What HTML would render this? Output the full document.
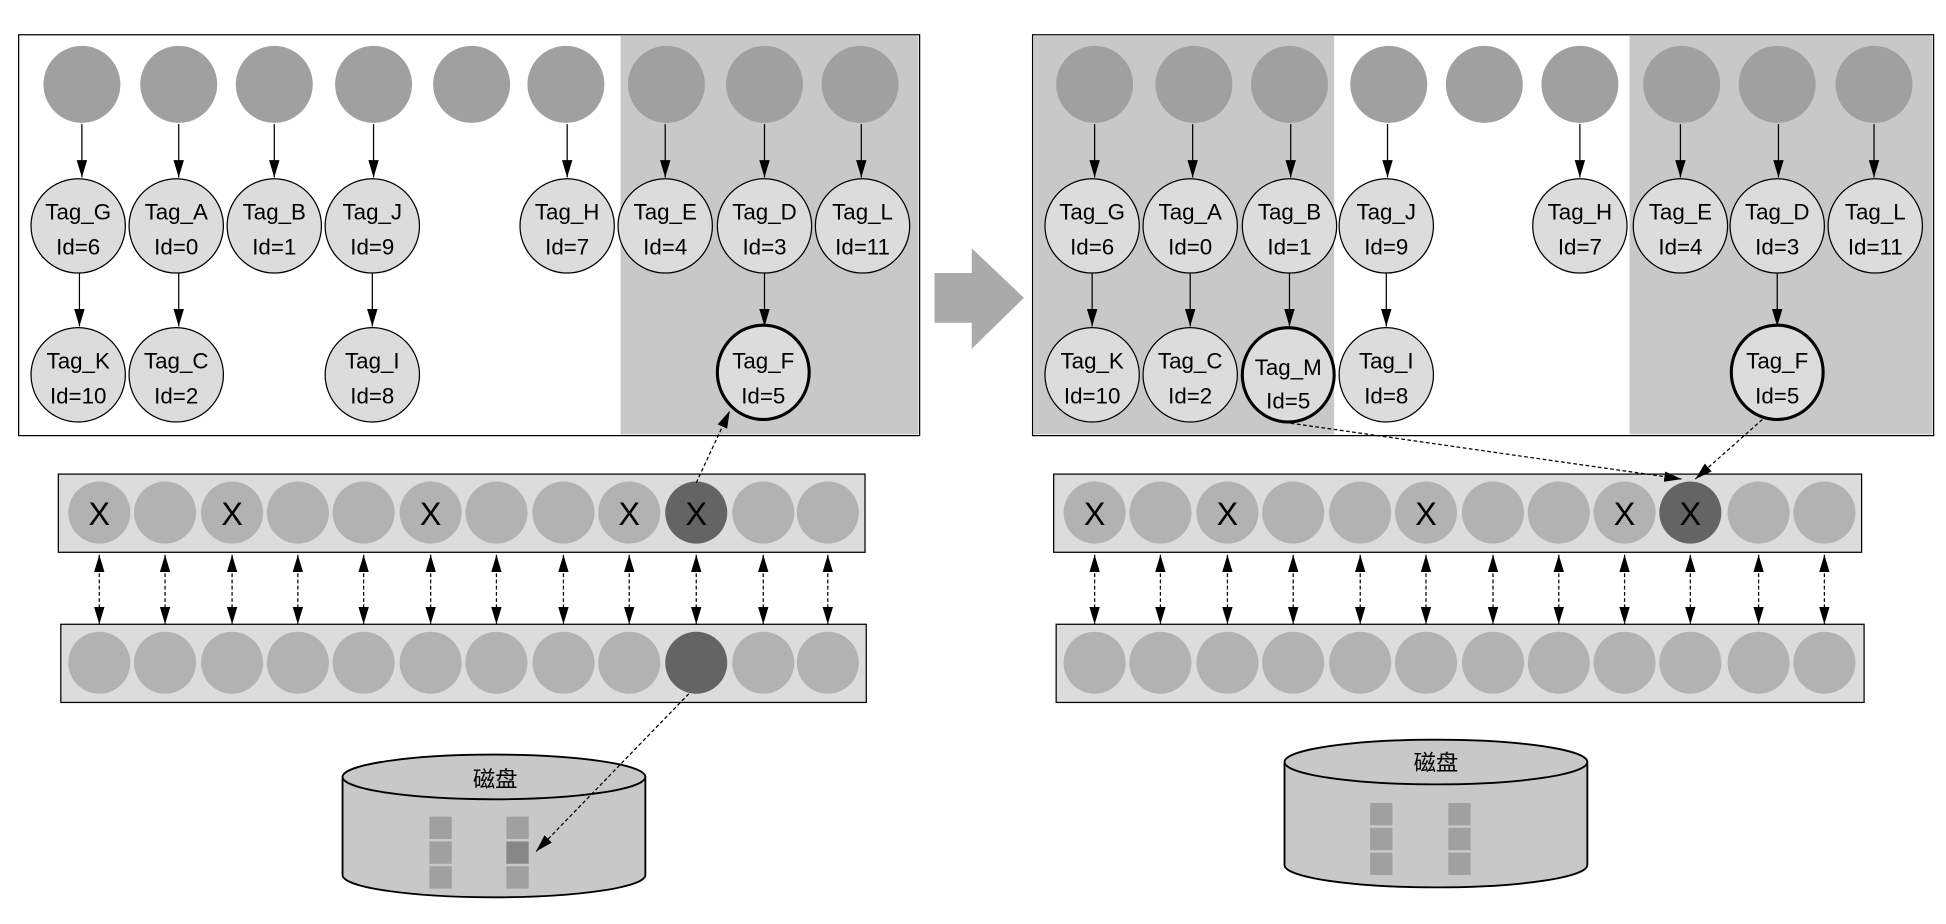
<!DOCTYPE html>
<html><head><meta charset="utf-8"><style>html,body{margin:0;padding:0;background:#fff}svg{display:block}</style></head>
<body>
<svg width="1946" height="924" viewBox="0 0 1568 744.5" xmlns="http://www.w3.org/2000/svg" font-family="Liberation Sans, Noto Sans CJK SC, sans-serif">
<defs>
<marker id="a" viewBox="0 0 10 10" refX="10" refY="5" markerWidth="7" markerHeight="7" orient="auto" markerUnits="userSpaceOnUse"><path d="M0,0 L10,5 L0,10z" fill="#000"/></marker>
<marker id="b" viewBox="0 0 10 10" refX="10" refY="5" markerWidth="14" markerHeight="14" orient="auto-start-reverse" markerUnits="userSpaceOnUse"><path d="M0,2 L10,5 L0,8z" fill="#000"/></marker>
</defs>
<style>
.t{fill:#a0a0a0}.n{fill:#dcdcdc;stroke:#000;stroke-width:1}.nb{fill:#dcdcdc;stroke:#000;stroke-width:2.5}
.l{stroke:#000;stroke-width:1;marker-end:url(#b)}
.d{stroke:#000;stroke-width:1;stroke-dasharray:3,2;fill:none}
.dd{stroke:#000;stroke-width:1;stroke-dasharray:3,2;marker-start:url(#b);marker-end:url(#b)}
text{font-size:18px;text-anchor:middle;fill:#000}
.c{fill:#b2b2b2}.k{fill:#646464}
.x{font-size:26px}
</style>

<!-- LEFT PANEL -->
<rect x="15" y="28" width="726" height="323" fill="#fff" stroke="#000"/>
<rect x="500" y="29" width="240" height="321" fill="#c8c8c8"/>
<g>
<circle class="t" cx="66" cy="68" r="31"/><circle class="t" cx="144" cy="68" r="31"/><circle class="t" cx="221" cy="68" r="31"/><circle class="t" cx="301" cy="68" r="31"/><circle class="t" cx="380" cy="68" r="31"/><circle class="t" cx="456" cy="68" r="31"/><circle class="t" cx="537" cy="68" r="31"/><circle class="t" cx="616" cy="68" r="31"/><circle class="t" cx="693" cy="68" r="31"/>
<line class="l" x1="66" y1="100" x2="66" y2="143"/><line class="l" x1="144" y1="100" x2="144" y2="143"/><line class="l" x1="221" y1="100" x2="221" y2="143"/><line class="l" x1="301" y1="100" x2="301" y2="143"/><line class="l" x1="457" y1="100" x2="457" y2="143"/><line class="l" x1="536" y1="100" x2="536" y2="143"/><line class="l" x1="616" y1="100" x2="616" y2="143"/><line class="l" x1="694" y1="100" x2="694" y2="143"/>
<line class="l" x1="64" y1="220" x2="64" y2="263"/><line class="l" x1="144" y1="220" x2="144" y2="263"/><line class="l" x1="300" y1="220" x2="300" y2="263"/><line class="l" x1="616" y1="220" x2="616" y2="263"/>
<ellipse class="n" cx="63" cy="182" rx="38" ry="38"/><text x="63" y="177">Tag_G</text><text x="63" y="205">Id=6</text>
<ellipse class="n" cx="142" cy="182" rx="38" ry="38"/><text x="142" y="177">Tag_A</text><text x="142" y="205">Id=0</text>
<ellipse class="n" cx="221" cy="182" rx="38" ry="38"/><text x="221" y="177">Tag_B</text><text x="221" y="205">Id=1</text>
<ellipse class="n" cx="300" cy="182" rx="38" ry="38"/><text x="300" y="177">Tag_J</text><text x="300" y="205">Id=9</text>
<ellipse class="n" cx="457" cy="182" rx="38" ry="38"/><text x="457" y="177">Tag_H</text><text x="457" y="205">Id=7</text>
<ellipse class="n" cx="536" cy="182" rx="38" ry="38"/><text x="536" y="177">Tag_E</text><text x="536" y="205">Id=4</text>
<ellipse class="n" cx="616" cy="182" rx="38" ry="38"/><text x="616" y="177">Tag_D</text><text x="616" y="205">Id=3</text>
<ellipse class="n" cx="695" cy="182" rx="38" ry="38"/><text x="695" y="177">Tag_L</text><text x="695" y="205">Id=11</text>
<ellipse class="n" cx="63" cy="302" rx="38" ry="38"/><text x="63" y="297">Tag_K</text><text x="63" y="325">Id=10</text>
<ellipse class="n" cx="142" cy="302" rx="38" ry="38"/><text x="142" y="297">Tag_C</text><text x="142" y="325">Id=2</text>
<ellipse class="n" cx="300" cy="302" rx="38" ry="38"/><text x="300" y="297">Tag_I</text><text x="300" y="325">Id=8</text>
<ellipse class="nb" cx="615" cy="300" rx="37" ry="38"/><text x="615" y="297">Tag_F</text><text x="615" y="325">Id=5</text>
</g>

<!-- big arrow -->
<path d="M753,220 L783,220 L783,200 L825,240 L783,281 L783,260 L753,260z" fill="#aaa"/>

<!-- RIGHT PANEL -->
<rect x="832" y="28" width="726" height="323" fill="#fff" stroke="#000"/>
<rect x="833" y="29" width="242" height="321" fill="#c8c8c8"/>
<rect x="1313" y="29" width="244" height="321" fill="#c8c8c8"/>
<g>
<circle class="t" cx="882" cy="68" r="31"/><circle class="t" cx="962" cy="68" r="31"/><circle class="t" cx="1039" cy="68" r="31"/><circle class="t" cx="1119" cy="68" r="31"/><circle class="t" cx="1196" cy="68" r="31"/><circle class="t" cx="1273" cy="68" r="31"/><circle class="t" cx="1355" cy="68" r="31"/><circle class="t" cx="1432" cy="68" r="31"/><circle class="t" cx="1510" cy="68" r="31"/>
<line class="l" x1="882" y1="100" x2="882" y2="143"/><line class="l" x1="961" y1="100" x2="961" y2="143"/><line class="l" x1="1040" y1="100" x2="1040" y2="143"/><line class="l" x1="1118" y1="100" x2="1118" y2="143"/><line class="l" x1="1273" y1="100" x2="1273" y2="143"/><line class="l" x1="1354" y1="100" x2="1354" y2="143"/><line class="l" x1="1433" y1="100" x2="1433" y2="143"/><line class="l" x1="1510" y1="100" x2="1510" y2="143"/>
<line class="l" x1="880" y1="220" x2="880" y2="263"/><line class="l" x1="959" y1="220" x2="959" y2="263"/><line class="l" x1="1039" y1="220" x2="1039" y2="263"/><line class="l" x1="1117" y1="220" x2="1117" y2="263"/><line class="l" x1="1432" y1="220" x2="1432" y2="263"/>
<ellipse class="n" cx="880" cy="182" rx="38" ry="38"/><text x="880" y="177">Tag_G</text><text x="880" y="205">Id=6</text>
<ellipse class="n" cx="959" cy="182" rx="38" ry="38"/><text x="959" y="177">Tag_A</text><text x="959" y="205">Id=0</text>
<ellipse class="n" cx="1039" cy="182" rx="38" ry="38"/><text x="1039" y="177">Tag_B</text><text x="1039" y="205">Id=1</text>
<ellipse class="n" cx="1117" cy="182" rx="38" ry="38"/><text x="1117" y="177">Tag_J</text><text x="1117" y="205">Id=9</text>
<ellipse class="n" cx="1273" cy="182" rx="38" ry="38"/><text x="1273" y="177">Tag_H</text><text x="1273" y="205">Id=7</text>
<ellipse class="n" cx="1354" cy="182" rx="38" ry="38"/><text x="1354" y="177">Tag_E</text><text x="1354" y="205">Id=4</text>
<ellipse class="n" cx="1432" cy="182" rx="38" ry="38"/><text x="1432" y="177">Tag_D</text><text x="1432" y="205">Id=3</text>
<ellipse class="n" cx="1511" cy="182" rx="38" ry="38"/><text x="1511" y="177">Tag_L</text><text x="1511" y="205">Id=11</text>
<ellipse class="n" cx="880" cy="302" rx="38" ry="38"/><text x="880" y="297">Tag_K</text><text x="880" y="325">Id=10</text>
<ellipse class="n" cx="959" cy="302" rx="38" ry="38"/><text x="959" y="297">Tag_C</text><text x="959" y="325">Id=2</text>
<ellipse class="nb" cx="1038" cy="302" rx="37" ry="38"/><text x="1038" y="302">Tag_M</text><text x="1038" y="329">Id=5</text>
<ellipse class="n" cx="1117" cy="302" rx="38" ry="38"/><text x="1117" y="297">Tag_I</text><text x="1117" y="325">Id=8</text>
<ellipse class="nb" cx="1432" cy="300" rx="37" ry="38"/><text x="1432" y="297">Tag_F</text><text x="1432" y="325">Id=5</text>
</g>

<!-- LEFT STRIPS -->
<rect x="47" y="382" width="650" height="63" fill="#dcdcdc" stroke="#000"/>
<rect x="49" y="503" width="649" height="63" fill="#dcdcdc" stroke="#000"/>
<g>
<circle class="c" cx="80" cy="413" r="25"/><circle class="c" cx="133" cy="413" r="25"/><circle class="c" cx="187" cy="413" r="25"/><circle class="c" cx="240" cy="413" r="25"/><circle class="c" cx="293" cy="413" r="25"/><circle class="c" cx="347" cy="413" r="25"/><circle class="c" cx="400" cy="413" r="25"/><circle class="c" cx="454" cy="413" r="25"/><circle class="c" cx="507" cy="413" r="25"/><circle class="k" cx="561" cy="413" r="25"/><circle class="c" cx="615" cy="413" r="25"/><circle class="c" cx="667" cy="413" r="25"/>
<text class="x" x="80" y="423">X</text><text class="x" x="187" y="423">X</text><text class="x" x="347" y="423">X</text><text class="x" x="507" y="423">X</text><text class="x" x="561" y="423">X</text>
<circle class="c" cx="80" cy="534" r="25"/><circle class="c" cx="133" cy="534" r="25"/><circle class="c" cx="187" cy="534" r="25"/><circle class="c" cx="240" cy="534" r="25"/><circle class="c" cx="293" cy="534" r="25"/><circle class="c" cx="347" cy="534" r="25"/><circle class="c" cx="400" cy="534" r="25"/><circle class="c" cx="454" cy="534" r="25"/><circle class="c" cx="507" cy="534" r="25"/><circle class="k" cx="561" cy="534" r="25"/><circle class="c" cx="615" cy="534" r="25"/><circle class="c" cx="667" cy="534" r="25"/>
<line class="dd" x1="80" y1="447" x2="80" y2="503"/><line class="dd" x1="133" y1="447" x2="133" y2="503"/><line class="dd" x1="187" y1="447" x2="187" y2="503"/><line class="dd" x1="240" y1="447" x2="240" y2="503"/><line class="dd" x1="293" y1="447" x2="293" y2="503"/><line class="dd" x1="347" y1="447" x2="347" y2="503"/><line class="dd" x1="400" y1="447" x2="400" y2="503"/><line class="dd" x1="454" y1="447" x2="454" y2="503"/><line class="dd" x1="507" y1="447" x2="507" y2="503"/><line class="dd" x1="561" y1="447" x2="561" y2="503"/><line class="dd" x1="615" y1="447" x2="615" y2="503"/><line class="dd" x1="667" y1="447" x2="667" y2="503"/>
</g>
<line class="d" x1="561" y1="389" x2="588" y2="331" marker-end="url(#b)"/>

<!-- LEFT DISK -->
<path d="M276,626 L276,705 A122,18 0 0 0 520,705 L520,626" fill="#c8c8c8" stroke="#000" stroke-width="1.5"/>
<ellipse cx="398" cy="626" rx="122" ry="18" fill="#c8c8c8" stroke="#000" stroke-width="1.5"/>
<text x="399" y="634" font-family="Noto Sans CJK SC, sans-serif" font-size="19">磁盘</text>
<rect x="346" y="658" width="18" height="18" fill="#a0a0a0"/><rect x="346" y="678" width="18" height="18" fill="#a0a0a0"/><rect x="346" y="698" width="18" height="18" fill="#a0a0a0"/>
<rect x="408" y="658" width="18" height="18" fill="#a0a0a0"/><rect x="408" y="678" width="18" height="18" fill="#888"/><rect x="408" y="698" width="18" height="18" fill="#a0a0a0"/>
<line class="d" x1="555" y1="559" x2="432" y2="686" marker-end="url(#b)"/>

<!-- RIGHT STRIPS -->
<rect x="849" y="382" width="651" height="63" fill="#dcdcdc" stroke="#000"/>
<rect x="851" y="503" width="651" height="63" fill="#dcdcdc" stroke="#000"/>
<g>
<circle class="c" cx="882" cy="413" r="25"/><circle class="c" cx="935" cy="413" r="25"/><circle class="c" cx="989" cy="413" r="25"/><circle class="c" cx="1042" cy="413" r="25"/><circle class="c" cx="1096" cy="413" r="25"/><circle class="c" cx="1149" cy="413" r="25"/><circle class="c" cx="1203" cy="413" r="25"/><circle class="c" cx="1256" cy="413" r="25"/><circle class="c" cx="1309" cy="413" r="25"/><circle class="k" cx="1362" cy="413" r="25"/><circle class="c" cx="1417" cy="413" r="25"/><circle class="c" cx="1470" cy="413" r="25"/>
<text class="x" x="882" y="423">X</text><text class="x" x="989" y="423">X</text><text class="x" x="1149" y="423">X</text><text class="x" x="1309" y="423">X</text><text class="x" x="1362" y="423">X</text>
<circle class="c" cx="882" cy="534" r="25"/><circle class="c" cx="935" cy="534" r="25"/><circle class="c" cx="989" cy="534" r="25"/><circle class="c" cx="1042" cy="534" r="25"/><circle class="c" cx="1096" cy="534" r="25"/><circle class="c" cx="1149" cy="534" r="25"/><circle class="c" cx="1203" cy="534" r="25"/><circle class="c" cx="1256" cy="534" r="25"/><circle class="c" cx="1309" cy="534" r="25"/><circle class="c" cx="1362" cy="534" r="25"/><circle class="c" cx="1417" cy="534" r="25"/><circle class="c" cx="1470" cy="534" r="25"/>
<line class="dd" x1="882" y1="447" x2="882" y2="503"/><line class="dd" x1="935" y1="447" x2="935" y2="503"/><line class="dd" x1="989" y1="447" x2="989" y2="503"/><line class="dd" x1="1042" y1="447" x2="1042" y2="503"/><line class="dd" x1="1096" y1="447" x2="1096" y2="503"/><line class="dd" x1="1149" y1="447" x2="1149" y2="503"/><line class="dd" x1="1203" y1="447" x2="1203" y2="503"/><line class="dd" x1="1256" y1="447" x2="1256" y2="503"/><line class="dd" x1="1309" y1="447" x2="1309" y2="503"/><line class="dd" x1="1362" y1="447" x2="1362" y2="503"/><line class="dd" x1="1417" y1="447" x2="1417" y2="503"/><line class="dd" x1="1470" y1="447" x2="1470" y2="503"/>
</g>
<line class="d" x1="1040" y1="341" x2="1355" y2="386" marker-end="url(#b)"/>
<line class="d" x1="1420" y1="338" x2="1366" y2="386" marker-end="url(#b)"/>

<!-- RIGHT DISK -->
<path d="M1035,614 L1035,697 A122,18 0 0 0 1279,697 L1279,614" fill="#c8c8c8" stroke="#000" stroke-width="1.5"/>
<ellipse cx="1157" cy="614" rx="122" ry="18" fill="#c8c8c8" stroke="#000" stroke-width="1.5"/>
<text x="1157" y="621" font-family="Noto Sans CJK SC, sans-serif" font-size="19">磁盘</text>
<rect x="1104" y="647" width="18" height="18" fill="#a0a0a0"/><rect x="1104" y="667" width="18" height="18" fill="#a0a0a0"/><rect x="1104" y="687" width="18" height="18" fill="#a0a0a0"/>
<rect x="1167" y="647" width="18" height="18" fill="#a0a0a0"/><rect x="1167" y="667" width="18" height="18" fill="#a0a0a0"/><rect x="1167" y="687" width="18" height="18" fill="#a0a0a0"/>
</svg>
</body></html>
